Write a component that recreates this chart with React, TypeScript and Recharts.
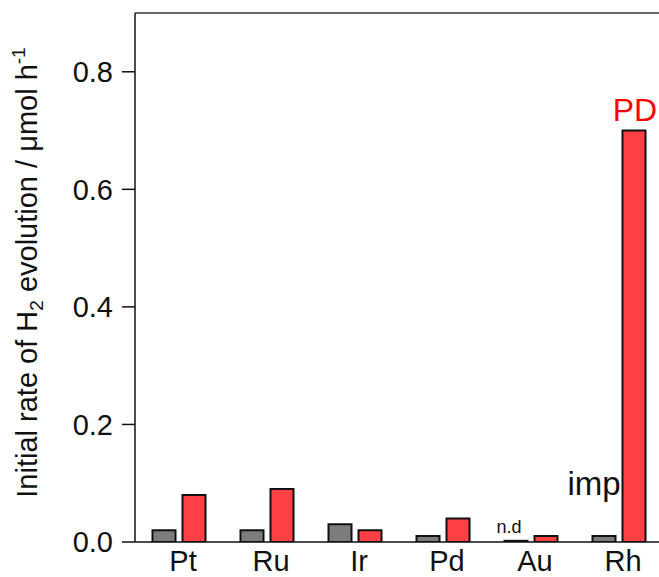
import React from 'react';
import { BarChart, Bar, XAxis, YAxis, ReferenceLine, LabelList, Label } from 'recharts';

// catalysts on the x axis
const categories = ['Pt', 'Ru', 'Ir', 'Pd', 'Au', 'Rh'];
// initial H2 rate, µmol/h: impregnation (grey) and photodeposition (red)
const impRates = [0.02, 0.02, 0.03, 0.01, 0.002, 0.01];
const pdRates = [0.08, 0.09, 0.02, 0.04, 0.01, 0.7];
// annotations written above some bars
const impNotes = ['', '', '', '', 'n.d', 'imp'];
const pdNotes = ['', '', '', '', '', 'PD'];
const yTicks = [0, 0.2, 0.4, 0.6, 0.8];

const data = categories.map((name, i) => ({
  name,
  imp: impRates[i],
  pd: pdRates[i],
  impNote: impNotes[i],
  pdNote: pdNotes[i],
}));

const FONT = '"Liberation Sans", Arial, Helvetica, sans-serif';

const noteStyle: Record<string, { size: number; dx: number; dy: number; fill: string }> = {
  'n.d': { size: 18, dx: -7, dy: -8, fill: '#111' },
  imp: { size: 33, dx: -10, dy: -41, fill: '#111' },
  PD: { size: 32, dx: 1, dy: -10, fill: '#ff0000' },
};

const renderNote = (props: any) => {
  const { x, y, width, value } = props;
  if (!value) return null;
  const s = noteStyle[value];
  return (
    <text
      x={Number(x) + Number(width) / 2 + s.dx}
      y={Number(y) + s.dy}
      textAnchor="middle"
      fontSize={s.size}
      fill={s.fill}
      fontFamily={FONT}
    >
      {value}
    </text>
  );
};

const renderYLabel = (props: any) => {
  const vb = props.viewBox || { x: 0, y: 0, width: 0, height: 0 };
  const cx = vb.x + 37;
  const cy = vb.y + vb.height / 2 - 5;
  return (
    <text
      x={cx}
      y={cy}
      transform={`rotate(-90, ${cx}, ${cy})`}
      textAnchor="middle"
      fontSize={29}
      fill="#111"
      fontFamily={FONT}
    >
      Initial rate of H
      <tspan fontSize={19} dy={6}>2</tspan>
      <tspan dy={-6}> evolution / μmol h</tspan>
      <tspan fontSize={19} dy={-12}>-1</tspan>
    </text>
  );
};

export default function App() {
  return (
    <div
      style={{
        position: 'fixed',
        left: 0,
        top: 0,
        width: 659,
        height: 577,
        overflow: 'hidden',
        background: '#fff',
      }}
    >
      <BarChart
        width={680}
        height={600}
        data={data}
        margin={{ top: 13, right: 17, bottom: 0, left: 0 }}
        barCategoryGap={17.5}
        barGap={7}
        style={{ fontFamily: FONT }}
      >
        <ReferenceLine y={0.9} stroke="#333" strokeWidth={1.5} />
        <XAxis
          dataKey="name"
          height={58}
          tickLine={false}
          tickSize={0}
          tickMargin={8}
          axisLine={{ stroke: '#111', strokeWidth: 1.5 }}
          tick={{ fontSize: 29, fill: '#111', dx: 4 }}
          interval={0}
        />
        <YAxis
          width={135}
          domain={[0, 0.9]}
          ticks={yTicks}
          allowDataOverflow
          tickSize={13}
          tickMargin={9}
          tickFormatter={(v: number) => v.toFixed(1)}
          axisLine={{ stroke: '#111', strokeWidth: 1.5 }}
          tickLine={{ stroke: '#111', strokeWidth: 1.5 }}
          tick={{ fontSize: 29, fill: '#111' }}
        >
          <Label content={renderYLabel} />
        </YAxis>
        <Bar dataKey="imp" fill="#7d7d7d" stroke="#111" strokeWidth={2} isAnimationActive={false}>
          <LabelList dataKey="impNote" content={renderNote} />
        </Bar>
        <Bar dataKey="pd" fill="#ff4044" stroke="#111" strokeWidth={2} isAnimationActive={false}>
          <LabelList dataKey="pdNote" content={renderNote} />
        </Bar>
      </BarChart>
    </div>
  );
}
